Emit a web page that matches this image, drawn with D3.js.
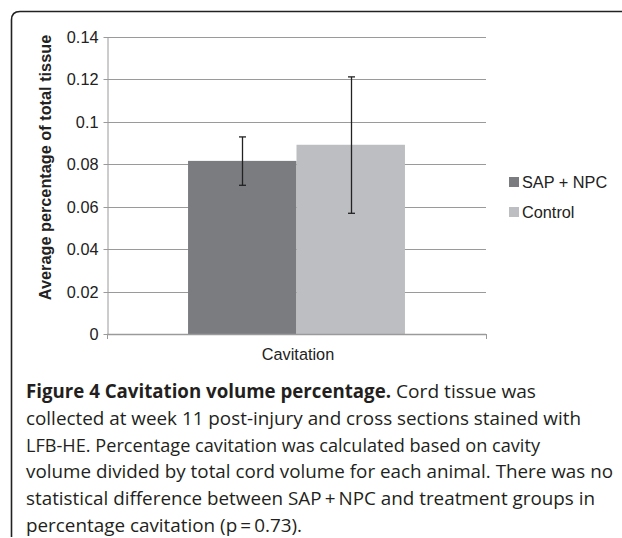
<!DOCTYPE html>
<html>
<head>
<meta charset="utf-8">
<script src="https://cdn.jsdelivr.net/npm/d3@7/dist/d3.min.js"></script>
<style>
  html, body { margin: 0; padding: 0; background: #fff; }
  svg { display: block; }
</style>
</head>
<body>
<svg id="chart" width="622" height="538"></svg>
<script>
// ---- data ----
const categories = ["Cavitation"];
const seriesNames = ["SAP + NPC", "Control"];
const seriesMeans = [0.0816, 0.0892];
const seriesErrLow = [0.0701, 0.0569];
const seriesErrHigh = [0.0929, 0.1212];
const seriesColors = ["#7b7c80", "#bdbec2"];
const yTickValues = [0, 0.02, 0.04, 0.06, 0.08, 0.1, 0.12, 0.14];
const yTickLabels = ["0", "0.02", "0.04", "0.06", "0.08", "0.1", "0.12", "0.14"];
const yTitle = "Average percentage of total tissue";
const captionBold = "Figure 4 Cavitation volume percentage.";
const captionFirstRest = "Cord tissue was";
const captionLines = [
  "collected at week 11 post-injury and cross sections stained with",
  "LFB-HE. Percentage cavitation was calculated based on cavity",
  "volume divided by total cord volume for each animal. There was no",
  "statistical difference between SAP\u2009+\u2009NPC and treatment groups in",
  "percentage cavitation (p\u2009=\u20090.73)."
];

(function () {
const svg = d3.select("#chart");
const font = "'Liberation Sans', Arial, sans-serif";
const fs = 16.3;

// frame
svg.append("path")
  .attr("d", "M11.5,537 L11.5,20 Q11.5,11.5 20,11.5 L622,11.5")
  .attr("fill", "none").attr("stroke", "#222").attr("stroke-width", 1.6);

const pLeft = 107, pRight = 486, pTop = 37, pBottom = 334;

const y = d3.scaleLinear().domain([0, 0.14]).range([pBottom, pTop]);
const x0 = d3.scaleBand().domain(categories).range([pLeft, pRight]).padding(0.272);
const x1 = d3.scaleBand().domain(seriesNames).range([0, x0.bandwidth()]).padding(0);

// gridlines
svg.append("g").selectAll("line").data(yTickValues.slice(1)).join("line")
  .attr("x1", pLeft).attr("x2", pRight)
  .attr("y1", d => Math.round(y(d)) + 0.5).attr("y2", d => Math.round(y(d)) + 0.5)
  .attr("stroke", "#9a9a9a").attr("stroke-width", 1);

// y axis
const yAxis = d3.axisLeft(y).tickValues(yTickValues)
  .tickFormat((d, i) => yTickLabels[i]).tickSize(4).tickPadding(5).tickSizeOuter(0);
const gy = svg.append("g").attr("transform", `translate(${pLeft + 0.5},0.5)`).call(yAxis);
gy.select(".domain").attr("stroke", "#9a9a9a");
gy.selectAll(".tick line").attr("stroke", "#9a9a9a");
gy.selectAll(".tick text").attr("font-family", font).attr("font-size", fs).attr("fill", "#222");
gy.selectAll(".tick").attr("transform", d => `translate(0,${Math.round(y(d))})`);

// bars
const g = svg.append("g");
seriesNames.forEach((s, i) => {
  categories.forEach(c => {
    g.append("rect")
      .attr("x", x0(c) + x1(s)).attr("width", x1.bandwidth())
      .attr("y", y(seriesMeans[i])).attr("height", y(0) - y(seriesMeans[i]))
      .attr("fill", seriesColors[i]);
  });
});

// x axis
svg.append("line").attr("x1", pLeft).attr("x2", pRight)
  .attr("y1", pBottom + 0.5).attr("y2", pBottom + 0.5)
  .attr("stroke", "#9a9a9a").attr("stroke-width", 1.4);
[pLeft, pRight].forEach(xx => {
  svg.append("line").attr("x1", xx + 0.5).attr("x2", xx + 0.5)
    .attr("y1", pBottom).attr("y2", pBottom + 5).attr("stroke", "#9a9a9a");
});
svg.selectAll(".xlab").data(categories).join("text")
  .attr("x", d => x0(d) + x0.bandwidth() / 2 + 1.5).attr("y", 360)
  .attr("text-anchor", "middle").attr("font-family", font).attr("font-size", fs)
  .attr("fill", "#222").text(d => d);

// error bars
seriesNames.forEach((s, i) => {
  const cx = Math.round(x0(categories[0]) + x1(s) + x1.bandwidth() / 2) + 0.5;
  const eg = svg.append("g").attr("stroke", "#222").attr("stroke-width", 1.3);
  eg.append("line").attr("x1", cx).attr("x2", cx)
    .attr("y1", y(seriesErrHigh[i])).attr("y2", y(seriesErrLow[i]));
  [seriesErrHigh[i], seriesErrLow[i]].forEach(v => {
    eg.append("line").attr("x1", cx - 3.5).attr("x2", cx + 3.5)
      .attr("y1", y(v)).attr("y2", y(v));
  });
});

// y title
svg.append("text")
  .attr("transform", `translate(50.5,167.5) rotate(-90)`)
  .attr("text-anchor", "middle").attr("font-family", font).attr("font-weight", "bold")
  .attr("font-size", fs).attr("fill", "#222").text(yTitle);

// legend
const lg = svg.append("g");
seriesNames.forEach((s, i) => {
  const ly = 182 + i * 30;
  lg.append("rect").attr("x", 509).attr("y", ly - 5).attr("width", 10).attr("height", 10)
    .attr("fill", seriesColors[i]);
  lg.append("text").attr("x", 522).attr("y", ly + 6)
    .attr("font-family", font).attr("font-size", fs).attr("fill", "#222").text(s);
});

// caption
const capFont = "'Open Sans', 'Noto Sans', sans-serif";
const capFs = 19, capX = 26, capY0 = 398, capDy = 26.8;
const capColor = "#231f20";
const lineLens = [555, 514, 587, 569, 276];
svg.append("text").attr("x", capX).attr("y", capY0)
  .attr("font-family", capFont).attr("font-size", capFs).attr("font-weight", "bold")
  .attr("fill", capColor).attr("textLength", 365).attr("lengthAdjust", "spacingAndGlyphs")
  .text(captionBold);
svg.append("text").attr("x", 396).attr("y", capY0)
  .attr("font-family", capFont).attr("font-size", capFs)
  .attr("fill", capColor).attr("textLength", 140).attr("lengthAdjust", "spacingAndGlyphs")
  .text(captionFirstRest);
captionLines.forEach((l, i) => {
  svg.append("text").attr("x", capX).attr("y", capY0 + (i + 1) * capDy)
    .attr("font-family", capFont).attr("font-size", capFs).attr("fill", capColor)
    .attr("textLength", lineLens[i]).attr("lengthAdjust", "spacingAndGlyphs").text(l);
});
})();
</script>
</body>
</html>
